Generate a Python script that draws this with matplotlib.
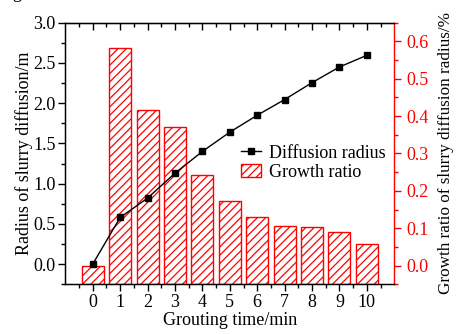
import matplotlib
matplotlib.use('Agg')
import matplotlib.pyplot as plt
import numpy as np

plt.rcParams['font.family'] = ['Liberation Serif', 'DejaVu Serif']
plt.rcParams['hatch.linewidth'] = 0.9

# --- data ---
time_min = [0, 1, 2, 3, 4, 5, 6, 7, 8, 9, 10]
radius_m = [0.0, 0.58, 0.82, 1.13, 1.40, 1.64, 1.85, 2.045, 2.255, 2.45, 2.595]
growth_ratio = [0.0, 0.581, 0.4165, 0.372, 0.2426, 0.172, 0.129, 0.106, 0.1035, 0.090, 0.058]
xtick_labels = [str(t) for t in time_min]

red = '#ff0000'
fs = 13
fig = plt.figure(figsize=(4.59, 3.34), dpi=100)
ax = fig.add_axes([0.1423, 0.149, 0.7167, 0.783])
ax2 = ax.twinx()

# bars on right axis, drawn up from the axis bottom like Origin does
ybot = -0.05
bars = ax2.bar(time_min, np.array(growth_ratio) - ybot, bottom=ybot, width=0.8,
               facecolor='white', edgecolor=red, hatch='////', linewidth=1.0,
               label='Growth ratio', zorder=1)
ax2.set_ylim(ybot, 0.65)
ax2.set_yticks(np.arange(0, 0.61, 0.1))
ax2.set_yticklabels(['%.1f' % v for v in np.arange(0, 0.61, 0.1)])
ax2.set_yticks(np.arange(-0.05, 0.651, 0.05), minor=True)
ax2.tick_params(axis='y', colors=red, labelsize=fs, direction='out', length=5, width=1)
ax2.tick_params(axis='y', which='minor', colors=red, direction='out', length=3, width=1)
ax2.spines['right'].set_color(red)
ax2.spines['right'].set_linewidth(1)
ax2.set_ylabel('Growth ratio of slurry diffusion radius/%', fontsize=12.3, color='black')
ax2.yaxis.set_label_coords(1.132, 0.5)

# line on left axis, put left axes above the bars
ax.set_zorder(ax2.get_zorder() + 1)
ax.patch.set_visible(False)
line, = ax.plot(time_min, radius_m, '-s', color='black', markersize=5, linewidth=1,
                label='Diffusion radius')
ax.set_ylim(-0.25, 3.0)
ax.set_yticks(np.arange(0, 3.01, 0.5))
ax.set_yticklabels(['%.1f' % v for v in np.arange(0, 3.01, 0.5)])
ax.set_yticks(np.arange(-0.25, 3.01, 0.25), minor=True)
ax.set_xlim(-1, 11)
ax.set_xticks(time_min)
ax.set_xticklabels(xtick_labels)
ax.set_xticks(np.arange(-0.5, 11, 1), minor=True)
ax.tick_params(axis='both', labelsize=fs, direction='out', length=5, width=1, pad=2)
ax.tick_params(axis='both', which='minor', direction='out', length=3, width=1)
ax.set_ylabel('Radius of slurry diffusion/m', fontsize=fs)
ax.yaxis.set_label_coords(-0.098, 0.5)
ax.set_xlabel('Grouting time/min', fontsize=fs)
ax.xaxis.set_label_coords(0.5, -0.108)
for s in ['left', 'bottom', 'top']:
    ax.spines[s].set_linewidth(1)
ax.spines['right'].set_visible(False)

# top ticks point inward
secx = ax.secondary_xaxis('top')
secx.set_xticks(time_min)
secx.set_xticklabels([])
secx.set_xticks(np.arange(-0.5, 11, 1), minor=True)
secx.tick_params(direction='in', length=5, width=1)
secx.tick_params(which='minor', direction='in', length=3, width=1)

ax.legend([line, bars], ['Diffusion radius', 'Growth ratio'], frameon=False,
          fontsize=fs, loc='center left', bbox_to_anchor=(0.497, 0.465),
          handlelength=1.1, handletextpad=0.4, borderpad=0.2, labelspacing=0.1)

# cut-off character from the source caption at the top-left corner
fig.text(12 / 459, 1 + 2.5 / 334, 'g', fontsize=fs, va='baseline', ha='left')

fig.savefig('out.png', dpi=100)
